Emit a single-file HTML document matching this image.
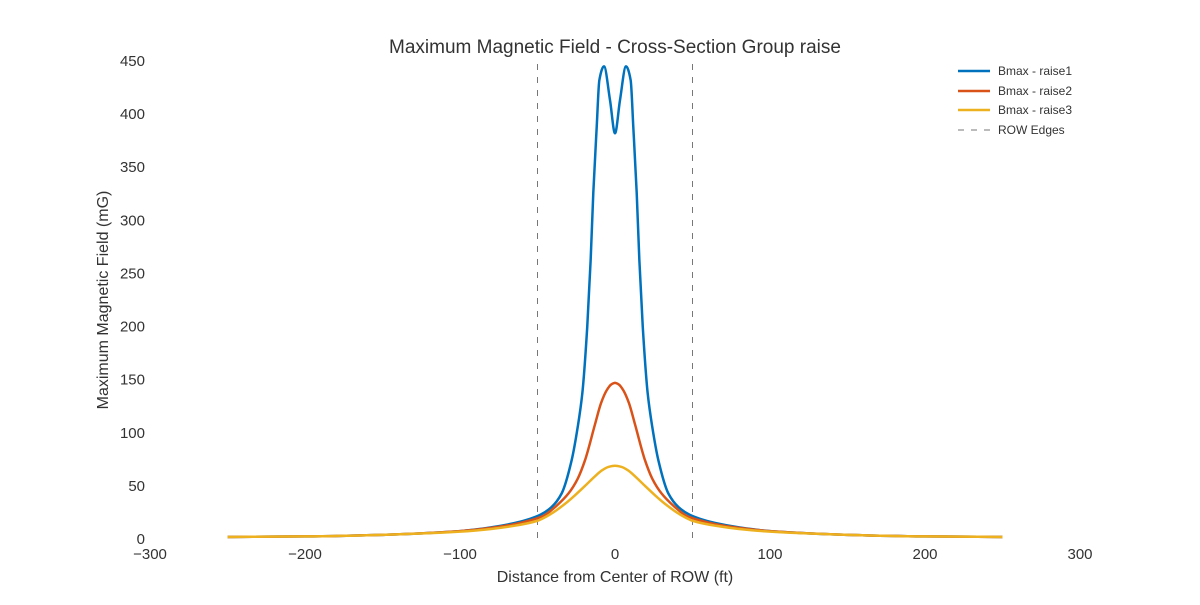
<!DOCTYPE html>
<html><head><meta charset="utf-8"><style>
body{margin:0;background:#fff;font-family:"Liberation Sans",sans-serif}
</style></head><body>
<svg width="1200" height="600" xmlns="http://www.w3.org/2000/svg" id="svg">
<text x="615" y="53" text-anchor="middle" font-size="19" fill="#333">Maximum Magnetic Field - Cross-Section Group raise</text>
<text x="615" y="582" text-anchor="middle" font-size="16" fill="#333">Distance from Center of ROW (ft)</text>
<text transform="translate(108,300) rotate(-90)" text-anchor="middle" font-size="16" fill="#333">Maximum Magnetic Field (mG)</text>
<g id="ticks"></g><g id="series"></g>
<g font-size="12" fill="#333">
<line x1="958" y1="71" x2="990" y2="71" stroke="#0072bd" stroke-width="2.5"/><text x="998" y="75">Bmax - raise1</text>
<line x1="958" y1="91" x2="990" y2="91" stroke="#d95319" stroke-width="2.5"/><text x="998" y="95">Bmax - raise2</text>
<line x1="958" y1="110" x2="990" y2="110" stroke="#edb120" stroke-width="2.5"/><text x="998" y="114">Bmax - raise3</text>
<line x1="958" y1="130" x2="990" y2="130" stroke="#777" stroke-width="1" stroke-dasharray="6,7"/><text x="998" y="134">ROW Edges</text>
</g>
</svg>
<script>
const xTicks=[-300,-200,-100,0,100,200,300];
const xTickLabels=["\u2212300","\u2212200","\u2212100","0","100","200","300"];
const yTicks=[0,50,100,150,200,250,300,350,400,450];
const rowEdges=[-50,50];
const xs1=[-250,-200,-150,-100,-80,-65,-55,-48,-41,-34.4,-28,-24,-21.1,-17.9,-15.7,-14,-11.8,-10.1,-7.1,-3.2,0,3.2,7.1,10.1,11.8,14,15.7,17.9,21.1,24,28,34.4,41,48,55,65,80,100,150,200,250];
const b1=[1,1.5,3,6.5,10,14,18,22,29,42,73,105,136,199,262,325,387,431,444,412,381,412,444,431,387,325,262,199,136,105,73,42,29,22,18,14,10,6.5,3,1.5,1];
const xs2=[-250,-200,-150,-100,-80,-65,-55,-46,-38,-30,-24,-19.4,-12.9,-9,-5.4,-2.5,0,2.5,5.4,9,12.9,19.4,24,30,38,46,55,65,80,100,150,200,250];
const b2=[1,1.5,3,6.5,9.5,13,16.5,21,30,42,56,73,107,127,139,144.5,146,144.5,139,127,107,73,56,42,30,21,16.5,13,9.5,6.5,3,1.5,1];
const xs3=[-250,-200,-150,-100,-80,-65,-50.5,-41,-32,-26,-19.4,-13,-8.6,-4,0,4,8.6,13,19.4,26,32,41,50.5,65,80,100,150,200,250];
const b3=[1,1.5,3,6,8.5,11.5,16,23,32.5,40,49,58,63.5,67,68,67,63.5,58,49,40,32.5,23,16,11.5,8.5,6,3,1.5,1];
const X=v=>615+v*1.55, Y=v=>538-v*(478/450);
const NS="http://www.w3.org/2000/svg";
const tk=document.getElementById('ticks');
function t(x,y,s,a){const e=document.createElementNS(NS,'text');e.setAttribute('x',x);e.setAttribute('y',y);e.setAttribute('text-anchor',a);e.setAttribute('font-size','15');e.setAttribute('fill','#333');e.textContent=s;


tk.appendChild(e);}
xTicks.forEach((v,i)=>t(X(v),559,xTickLabels[i],'middle'));
yTicks.forEach(v=>t(145,Y(v)+6,String(v),'end'));
rowEdges.forEach(v=>{const l=document.createElementNS(NS,'line');l.setAttribute('x1',X(v));l.setAttribute('x2',X(v));l.setAttribute('y1',64);l.setAttribute('y2',540);l.setAttribute('stroke','#777');l.setAttribute('stroke-dasharray','6,7');


tk.appendChild(l);});
function path(xs,ys){
  const n=xs.length,d=[],m=new Array(n);
  for(let i=0;i<n-1;i++)d.push((ys[i+1]-ys[i])/(xs[i+1]-xs[i]));
  m[0]=d[0];m[n-1]=d[n-2];
  for(let i=1;i<n-1;i++){
    if(d[i-1]*d[i]<=0)m[i]=0;
    else{const h0=xs[i]-xs[i-1],h1=xs[i+1]-xs[i];const w1=2*h1+h0,w2=h1+2*h0;m[i]=(w1+w2)/(w1/d[i-1]+w2/d[i]);}
  }
  let s='M'+X(xs[0])+','+Y(ys[0]);
  for(let i=0;i<n-1;i++){
    const h=xs[i+1]-xs[i];
    s+=' C'+X(xs[i]+h/3)+','+Y(ys[i]+m[i]*h/3)+' '+X(xs[i+1]-h/3)+','+Y(ys[i+1]-m[i+1]*h/3)+' '+X(xs[i+1])+','+Y(ys[i+1]);
  }
  return s;
}
const sg=document.getElementById('series');
[[xs1,b1,'#0072bd','series-raise1'],[xs2,b2,'#d95319','series-raise2'],[xs3,b3,'#edb120','series-raise3']].forEach(s=>{
const e=document.createElementNS(NS,'path');e.setAttribute('d',path(s[0],s[1]));e.setAttribute('fill','none');e.setAttribute('stroke',s[2]);e.setAttribute('stroke-width','2.5');


sg.appendChild(e);});
</script>
</body></html>
